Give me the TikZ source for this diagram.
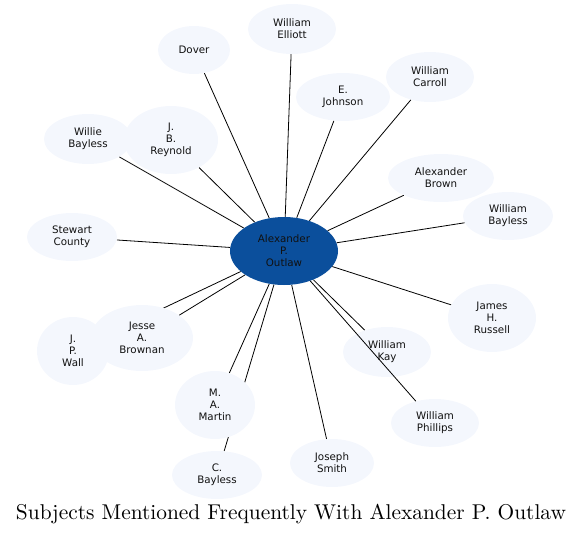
\documentclass[tikz,border=0pt]{standalone}
\usepackage{fontspec}
\newfontfamily\nodefont{DejaVu Sans}
\usetikzlibrary{shapes.geometric,backgrounds}
\definecolor{nodefill}{HTML}{F4F7FD}
\definecolor{centerfill}{HTML}{0B4F9C}
\definecolor{nodetext}{HTML}{111111}
\tikzset{
  subj/.style={ellipse, fill=nodefill, draw=none, inner sep=0pt, align=center,
    font=\nodefont\fontsize{10.3}{12}\selectfont, text=nodetext},
  hub/.style={subj, fill=centerfill},
  link/.style={draw=black, line width=0.8pt},
}
\newcommand{\subjnode}[5]{\node[subj, minimum width=#3pt, minimum height=#4pt] (#1) at (#2) {#5};}
\begin{document}
\begin{tikzpicture}[x=1pt,y=-1pt]
\useasboundingbox (0,0) rectangle (581,536);
\node[hub, minimum width=108pt, minimum height=68pt] (c) at (284,251) {Alexander\\P.\\Outlaw};
\subjnode{dover}{194,50}{72}{48}{Dover}
\subjnode{elliott}{292,29}{88}{50}{William\\Elliott}
\subjnode{johnson}{343,97}{94}{48}{E.\\Johnson}
\subjnode{carroll}{430,77}{88}{50}{William\\Carroll}
\subjnode{reynold}{171,140}{94}{68}{J.\\B.\\Reynold}
\subjnode{willie}{88,139}{88}{50}{Willie\\Bayless}
\subjnode{abrown}{441,178}{106}{48}{Alexander\\Brown}
\subjnode{wbayless}{508,216}{90}{48}{William\\Bayless}
\subjnode{stewart}{72,237}{90}{48}{Stewart\\County}
\subjnode{russell}{492,318}{88}{68}{James\\H.\\Russell}
\subjnode{wall}{73,351}{72}{68}{J.\\P.\\Wall}
\subjnode{jesse}{142,338}{102}{66}{Jesse\\A.\\Brownan}
\subjnode{kay}{387,352}{88}{50}{William\\Kay}
\subjnode{phillips}{435,423}{88}{48}{William\\Phillips}
\subjnode{martin}{215,405}{80}{68}{M.\\A.\\Martin}
\subjnode{cbayless}{217,475}{90}{48}{C.\\Bayless}
\subjnode{smith}{332,463}{84}{48}{Joseph\\Smith}
\begin{scope}[on background layer]
\foreach \t in {dover,elliott,johnson,carroll,reynold,willie,abrown,wbayless,stewart,russell,wall,jesse,kay,martin,cbayless,smith}
  \draw[link] (c) -- (\t);
\end{scope}
\draw[link] (c) -- (phillips);
\node[inner sep=0pt] (title) at (291,514) {\resizebox{550pt}{!}{\fontsize{10}{12}\selectfont Subjects Mentioned Frequently With Alexander P. Outlaw}};
\end{tikzpicture}
\end{document}
